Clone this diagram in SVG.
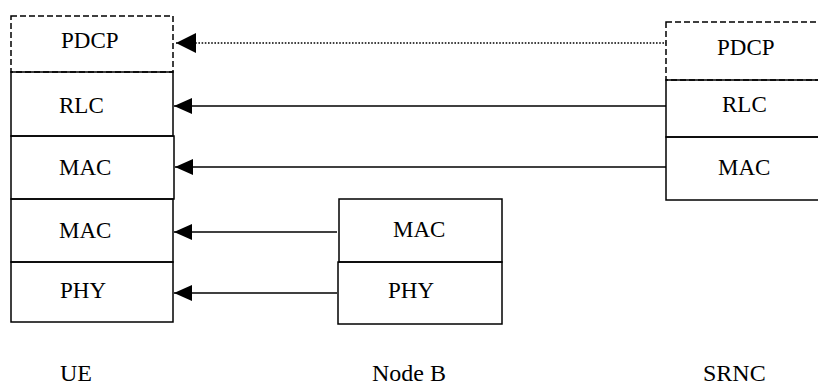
<svg xmlns="http://www.w3.org/2000/svg" width="818" height="387" viewBox="0 0 818 387">
<defs>
<style>
.box{fill:none;stroke:#000;stroke-width:1.5}
.dash{fill:none;stroke:#000;stroke-width:1.5;stroke-dasharray:6 3}
.lbl{font-family:"Liberation Serif","Times New Roman",serif;font-size:23px;fill:#000}
.cap{font-family:"Liberation Serif","Times New Roman",serif;font-size:24px;fill:#000}
.ln{stroke:#000;stroke-width:1.5;fill:none}
.dot{stroke:#000;stroke-width:1.6;stroke-dasharray:1.6 1.6;fill:none}
</style>
<marker id="ah" markerUnits="userSpaceOnUse" markerWidth="18" markerHeight="16" refX="0" refY="8" orient="auto" viewBox="0 0 18 16">
<path d="M0,8 L18,0 L18,16 Z" fill="#000"/>
</marker>
<marker id="ahb" markerUnits="userSpaceOnUse" markerWidth="20" markerHeight="20" refX="0" refY="10" orient="auto" viewBox="0 0 20 20">
<path d="M0,10 L20,0 L20,20 Z" fill="#000"/>
</marker>
</defs>
<rect width="818" height="387" fill="#fff"/>
<g id="ue">
<g id="ue-pdcp"><rect class="dash" x="11" y="16" width="162" height="56"/><text class="lbl" x="61" y="48">PDCP</text></g>
<g id="ue-rlc"><rect class="box" x="11" y="72" width="162" height="64"/><text class="lbl" x="59" y="113">RLC</text></g>
<g id="ue-mac1"><rect class="box" x="11" y="136" width="163" height="63"/><text class="lbl" x="59" y="175">MAC</text></g>
<g id="ue-mac2"><rect class="box" x="11" y="199" width="162" height="63"/><text class="lbl" x="59" y="238">MAC</text></g>
<g id="ue-phy"><rect class="box" x="11" y="262" width="162" height="60"/><text class="lbl" x="60" y="298">PHY</text></g>
</g>
<g id="nodeb">
<g id="nb-mac"><rect class="box" x="339" y="199" width="163" height="63"/><text class="lbl" x="393" y="237">MAC</text></g>
<g id="nb-phy"><rect class="box" x="338" y="262" width="164" height="62"/><text class="lbl" x="388" y="298">PHY</text></g>
</g>
<g id="srnc">
<g id="sr-pdcp"><rect class="dash" x="666" y="22" width="170" height="58"/><text class="lbl" x="717" y="55">PDCP</text></g>
<g id="sr-rlc"><rect class="box" x="666" y="80" width="170" height="57"/><text class="lbl" x="722" y="112">RLC</text></g>
<g id="sr-mac"><rect class="box" x="666" y="137" width="170" height="63"/><text class="lbl" x="718" y="175">MAC</text></g>
</g>
<g id="connectors">
<line class="dot" x1="176" y1="43" x2="666" y2="43" marker-start="url(#ahb)"/>
<line class="ln" x1="174" y1="106" x2="666" y2="106" marker-start="url(#ah)"/>
<line class="ln" x1="175" y1="167" x2="666" y2="167" marker-start="url(#ah)"/>
<line class="ln" x1="174" y1="232" x2="337" y2="232" marker-start="url(#ah)"/>
<line class="ln" x1="174" y1="293" x2="337" y2="293" marker-start="url(#ah)"/>
</g>
<g id="labels">
<text class="cap" x="60" y="381">UE</text>
<text class="cap" x="372" y="381">Node B</text>
<text class="cap" x="703" y="381">SRNC</text>
</g>
</svg>
